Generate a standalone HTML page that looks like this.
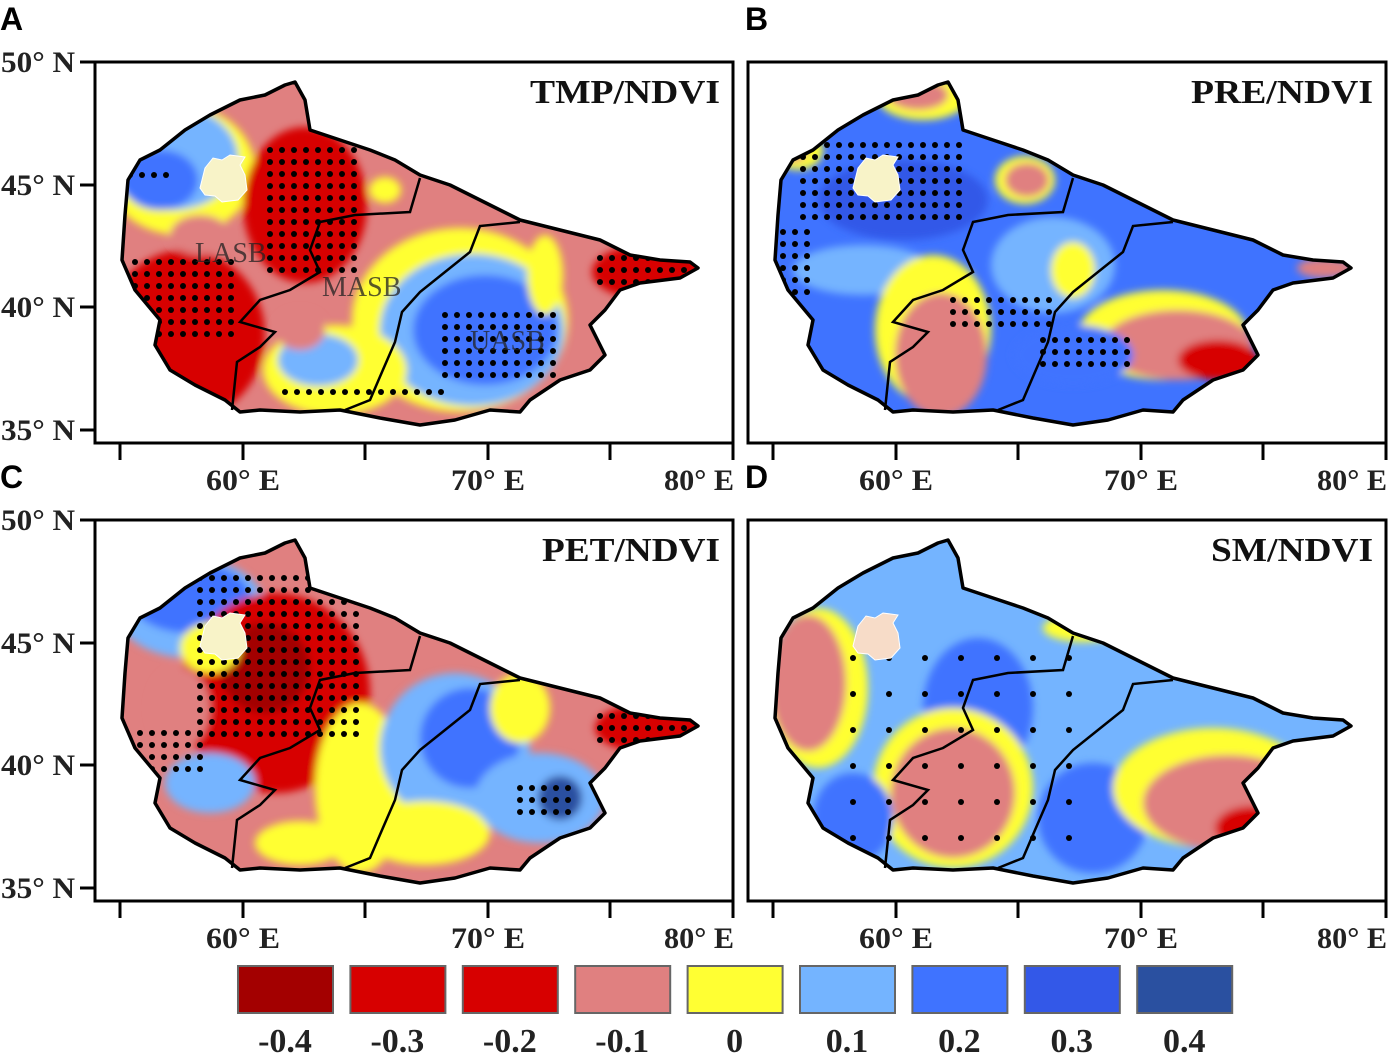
<!DOCTYPE html>
<html><head><meta charset="utf-8"><style>
body{margin:0;background:#fff;}
svg{display:block;font-family:"Liberation Serif",serif;}
</style></head><body>
<svg id="fig" width="1396" height="1057" viewBox="0 0 1396 1057" xmlns="http://www.w3.org/2000/svg"></svg>
<script>
const NS="http://www.w3.org/2000/svg";
// legend data
const legendValues=["-0.4","-0.3","-0.2","-0.1","0","0.1","0.2","0.3","0.4"];
const legendColors=["#a30000","#d70000","#d70000","#e08080","#ffff33","#74b4ff","#3f73ff","#3358e8","#2a50a0"];
const C={dr:"#a30000",r:"#d70000",p:"#e08080",y:"#ffff33",lb:"#74b4ff",b:"#3f73ff",db:"#3358e8",nb:"#2a50a0"};
// panels: titles, offsets
const panelTitles=["TMP/NDVI","PRE/NDVI","PET/NDVI","SM/NDVI"];
const panelLetters=["A","B","C","D"];
const panelDx=[0,653,0,653];
const panelDy=[0,0,458,458];
const panelBase=["p","b","p","lb"];
// blobs [cx,cy,rx,ry,colorKey] per panel (A coordinates)
const blobsA=[[180,170,75,65,"y"],[172,158,66,52,"lb"],[160,180,38,30,"b"],[305,205,62,78,"r"],[185,335,80,85,"r"],[460,320,108,92,"y"],[472,330,92,76,"lb"],[485,330,72,55,"b"],[335,370,72,45,"y"],[318,360,40,26,"lb"],[385,190,16,13,"y"],[650,272,58,28,"r"],[545,275,18,40,"y"],[300,330,25,20,"p"],[200,235,30,20,"p"]];
const blobsB=[[400,265,62,48,"lb"],[210,270,70,25,"lb"],[250,200,85,40,"db"],[280,330,58,75,"y"],[288,355,46,62,"p"],[510,335,85,45,"y"],[525,345,75,35,"p"],[565,360,40,20,"r"],[270,98,45,22,"y"],[265,95,30,15,"p"],[372,180,30,24,"y"],[374,180,22,17,"p"],[420,270,22,28,"y"],[672,268,28,10,"p"],[145,150,25,20,"y"],[140,150,15,12,"p"],[420,355,60,30,"b"]];
const blobsC=[[190,150,75,50,"lb"],[190,140,60,35,"b"],[275,235,95,100,"r"],[265,210,45,45,"dr"],[360,330,45,85,"y"],[455,290,75,75,"lb"],[470,280,50,50,"b"],[425,375,65,32,"y"],[210,325,45,30,"lb"],[300,385,45,22,"y"],[540,340,65,45,"lb"],[560,340,22,22,"nb"],[650,270,55,25,"r"],[520,250,30,35,"y"],[210,190,30,25,"y"],[180,250,30,40,"p"]];
const blobsD=[[165,230,50,80,"y"],[155,225,38,68,"p"],[325,250,55,70,"b"],[300,330,80,80,"y"],[300,335,62,65,"p"],[440,360,55,55,"b"],[560,330,100,60,"y"],[575,345,85,48,"p"],[600,370,38,22,"r"],[430,170,40,14,"y"],[200,360,40,45,"b"]];
const panelBlobs=[blobsA,blobsB,blobsC,blobsD];
// dot regions [x0,y0,x1,y1] (A coords)
const dotsA=[[270,150,360,270],[135,262,235,340],[445,315,560,385],[600,258,690,292],[130,175,175,180],[285,392,445,402]];
const dotsB=[[150,145,310,225],[130,232,160,300],[390,340,480,372],[300,300,400,325]];
const dotsC=[[200,120,360,280],[600,258,690,282],[520,330,570,360],[140,275,200,320]];
const dotsD=[[200,200,420,400]];
const panelDots=[dotsA,dotsB,dotsC,dotsD];
const dotStep=[12,12,12,36];

const outline=[[125,215],[128,180],[140,160],[160,150],[185,130],[210,115],[240,100],[265,95],[285,85],[295,82],[305,100],[310,130],[340,140],[370,150],[395,160],[420,175],[450,185],[490,205],[520,220],[560,230],[600,240],[630,255],[660,260],[690,262],[698,268],[680,278],[640,283],[620,290],[605,310],[590,325],[600,345],[605,355],[590,370],[560,380],[530,400],[520,412],[490,410],[455,420],[420,425],[380,418],[340,410],[300,412],[260,410],[240,412],[225,400],[195,385],[170,370],[155,345],[160,320],[135,290],[122,260]];
const line1=[[420,178],[410,212],[355,215],[320,222],[310,250],[320,272],[290,290],[260,300],[240,322],[275,332],[260,347],[237,362],[232,410]];
const line2=[[520,222],[480,226],[470,252],[445,272],[420,292],[402,312],[395,342],[382,372],[370,400],[345,410]];
const lake=[[205,168],[213,158],[222,160],[230,155],[245,157],[240,165],[245,175],[247,190],[238,200],[222,202],[215,196],[205,195],[200,188]];

const svg=document.getElementById('fig');
function el(tag,attrs,parent){const e=document.createElementNS(NS,tag);for(const k in attrs)e.setAttribute(k,attrs[k]);(parent||svg).appendChild(e);return e;}
function pts(a){return a.map(p=>p[0]+","+p[1]).join(" ");}

const defs=el('defs',{});
const cp=el('clipPath',{id:'basin'},defs);
el('polygon',{points:pts(outline)},cp);
const blur=el('filter',{id:'soft',x:'-20%',y:'-20%',width:'140%',height:'140%'},defs);
el('feGaussianBlur',{stdDeviation:'4'},blur);

const yLabels=["50° N","45° N","40° N","35° N"];
const yTicks=[62,185,307,430];
const xLabels=["60° E","70° E","80° E"];
const xTicks=[120,243,365,488,610,733];

for(let i=0;i<4;i++){
  const g=el('g',{transform:`translate(${panelDx[i]},${panelDy[i]})`});
  
  
  const L=el('text',{x:i%2?92:0,y:30,'font-family':'Liberation Sans, sans-serif','font-weight':'bold','font-size':32,fill:'#000'},g);
  L.textContent=panelLetters[i];
  
  
  const mg=el('g',{'clip-path':'url(#basin)'},g);
  
  
  el('rect',{x:100,y:70,width:620,height:370,fill:C[panelBase[i]]},mg);
  const bg=el('g',{filter:'url(#soft)'},mg);
  panelBlobs[i].forEach(b=>{
    const e=el('ellipse',{cx:b[0],cy:b[1],rx:b[2],ry:b[3],fill:C[b[4]]},bg);
    
    
  });
  const st=dotStep[i];
  panelDots[i].forEach(r=>{
    for(let x=r[0];x<=r[2];x+=st)for(let y=r[1];y<=r[3];y+=st){
      const d=el('circle',{cx:x,cy:y,r:3,fill:'#000'},mg);
      
      
    }
  });
  const o=el('polygon',{points:pts(outline),fill:'none',stroke:'#000','stroke-width':3.5,'stroke-linejoin':'round'},g);
  
  [line1,line2].forEach(l=>{const p=el('polyline',{points:pts(l),fill:'none',stroke:'#000','stroke-width':2.5},g);
    });
  const lk=el('polygon',{points:pts(lake),fill:i==3?'#f7dcc8':'#f8f3c8',stroke:'#fff','stroke-width':1},g);
  
  const fr=el('rect',{x:95,y:62,width:638,height:381,fill:'none',stroke:'#000','stroke-width':3},g);
  
  const tw=[190,182,178,162][i];
  const t=el('text',{x:720-tw,y:103,'font-size':34,'font-weight':'bold',fill:'#111',textLength:tw,lengthAdjust:'spacingAndGlyphs'},g);
  t.textContent=panelTitles[i];
  
  xTicks.forEach(x=>{el('line',{x1:x,y1:443,x2:x,y2:460,stroke:'#000','stroke-width':3},g);});
  const xl=[243,488,733];
  xLabels.forEach((s,k)=>{const tx=el('text',{x:k==2?664:xl[k]-37,y:490,'font-size':30,'font-weight':'bold',fill:'#222',textLength:k==2?70:74,lengthAdjust:'spacingAndGlyphs'},g);
    tx.textContent=s;});
  if(i%2==0){
    yTicks.forEach((y,k)=>{
      el('line',{x1:80,y1:y,x2:95,y2:y,stroke:'#000','stroke-width':3},g);
      const ty=el('text',{x:1,y:y+10,'font-size':30,'font-weight':'bold',fill:'#222',textLength:74,lengthAdjust:'spacingAndGlyphs'},g);
      ty.textContent=yLabels[k];
    });
  }
  if(i==0){
    [["LASB",195,262],["MASB",322,296],["UASB",470,350]].forEach(a=>{
      const s=el('text',{x:a[1],y:a[2],'font-size':28,fill:'#222','fill-opacity':0.75},g);
      s.textContent=a[0];
    });
  }
}
const lg=el('g',{});

legendValues.forEach((v,k)=>{
  const x=238+k*112.4;
  const r=el('rect',{x:x,y:966,width:95,height:47,fill:legendColors[k],stroke:'#666','stroke-width':2},lg);
  
  const t=el('text',{x:x+47,y:1052,'text-anchor':'middle','font-size':34,'font-weight':'bold',fill:'#222'},lg);
  t.textContent=v;
});
</script>
</body></html>
